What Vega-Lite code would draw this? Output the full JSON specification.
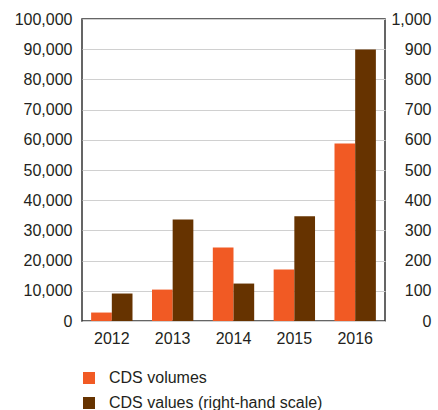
{
  "$schema": "https://vega.github.io/schema/vega-lite/v6.json",
  "autosize": {"type": "none"},
  "width": 303,
  "height": 302,
  "padding": {"left": 82, "top": 19, "right": 53, "bottom": 89},
  "background": "white",
  "config": {
    "font": "Liberation Sans",
    "view": {"stroke": "#333333", "strokeWidth": 1.5},
    "axis": {"labelFont": "Liberation Sans", "labelFontSize": 16, "labelColor": "#231f20", "ticks": false, "domain": false},
    "legend": {"labelFont": "Liberation Sans", "labelFontSize": 16, "labelColor": "#231f20", "labelLimit": 0}
  },
  "data": {
    "values": [
      {"year": "2012", "series": "CDS volumes", "amount": 2800},
      {"year": "2013", "series": "CDS volumes", "amount": 10400},
      {"year": "2014", "series": "CDS volumes", "amount": 24300},
      {"year": "2015", "series": "CDS volumes", "amount": 17050},
      {"year": "2016", "series": "CDS volumes", "amount": 58800},
      {"year": "2012", "series": "CDS values (right-hand scale)", "amount": 91},
      {"year": "2013", "series": "CDS values (right-hand scale)", "amount": 336},
      {"year": "2014", "series": "CDS values (right-hand scale)", "amount": 124},
      {"year": "2015", "series": "CDS values (right-hand scale)", "amount": 347},
      {"year": "2016", "series": "CDS values (right-hand scale)", "amount": 899}
    ]
  },
  "encoding": {
    "x": {
      "field": "year", "type": "nominal", "title": null,
      "scale": {"paddingInner": 0.32, "paddingOuter": 0.15},
      "axis": {"labelAngle": 0, "labelPadding": 9, "grid": false}
    },
    "xOffset": {
      "field": "series", "type": "nominal",
      "scale": {"domain": ["CDS volumes", "CDS values (right-hand scale)"], "paddingInner": 0, "paddingOuter": 0}
    },
    "color": {
      "field": "series", "type": "nominal",
      "scale": {"domain": ["CDS volumes", "CDS values (right-hand scale)"], "range": ["#F15A24", "#663300"]},
      "legend": {
        "title": null, "orient": "none", "legendX": -1, "legendY": 351,
        "direction": "vertical", "symbolType": "square", "symbolSize": 144,
        "symbolStrokeWidth": 0, "labelOffset": 12, "rowPadding": 9, "padding": 0, "labelLimit": 0
      }
    }
  },
  "layer": [
    {
      "transform": [{"filter": "datum.series == 'CDS volumes'"}],
      "mark": {"type": "bar"},
      "encoding": {
        "y": {
          "field": "amount", "type": "quantitative", "title": null,
          "scale": {"domain": [0, 100000], "nice": false},
          "axis": {
            "orient": "left", "values": [0, 10000, 20000, 30000, 40000, 50000, 60000, 70000, 80000, 90000, 100000],
            "format": ",.0f", "labelPadding": 10, "grid": true, "gridColor": "#d0d0d0", "gridWidth": 1
          }
        }
      }
    },
    {
      "transform": [{"filter": "datum.series == 'CDS values (right-hand scale)'"}],
      "mark": {"type": "bar"},
      "encoding": {
        "y": {
          "field": "amount", "type": "quantitative", "title": null,
          "scale": {"domain": [0, 1000], "nice": false},
          "axis": {
            "orient": "right", "values": [0, 100, 200, 300, 400, 500, 600, 700, 800, 900, 1000],
            "format": ",.0f", "labelAlign": "right", "labelPadding": 46, "grid": false
          }
        }
      }
    }
  ],
  "resolve": {"scale": {"y": "independent"}, "axis": {"y": "independent"}}
}
